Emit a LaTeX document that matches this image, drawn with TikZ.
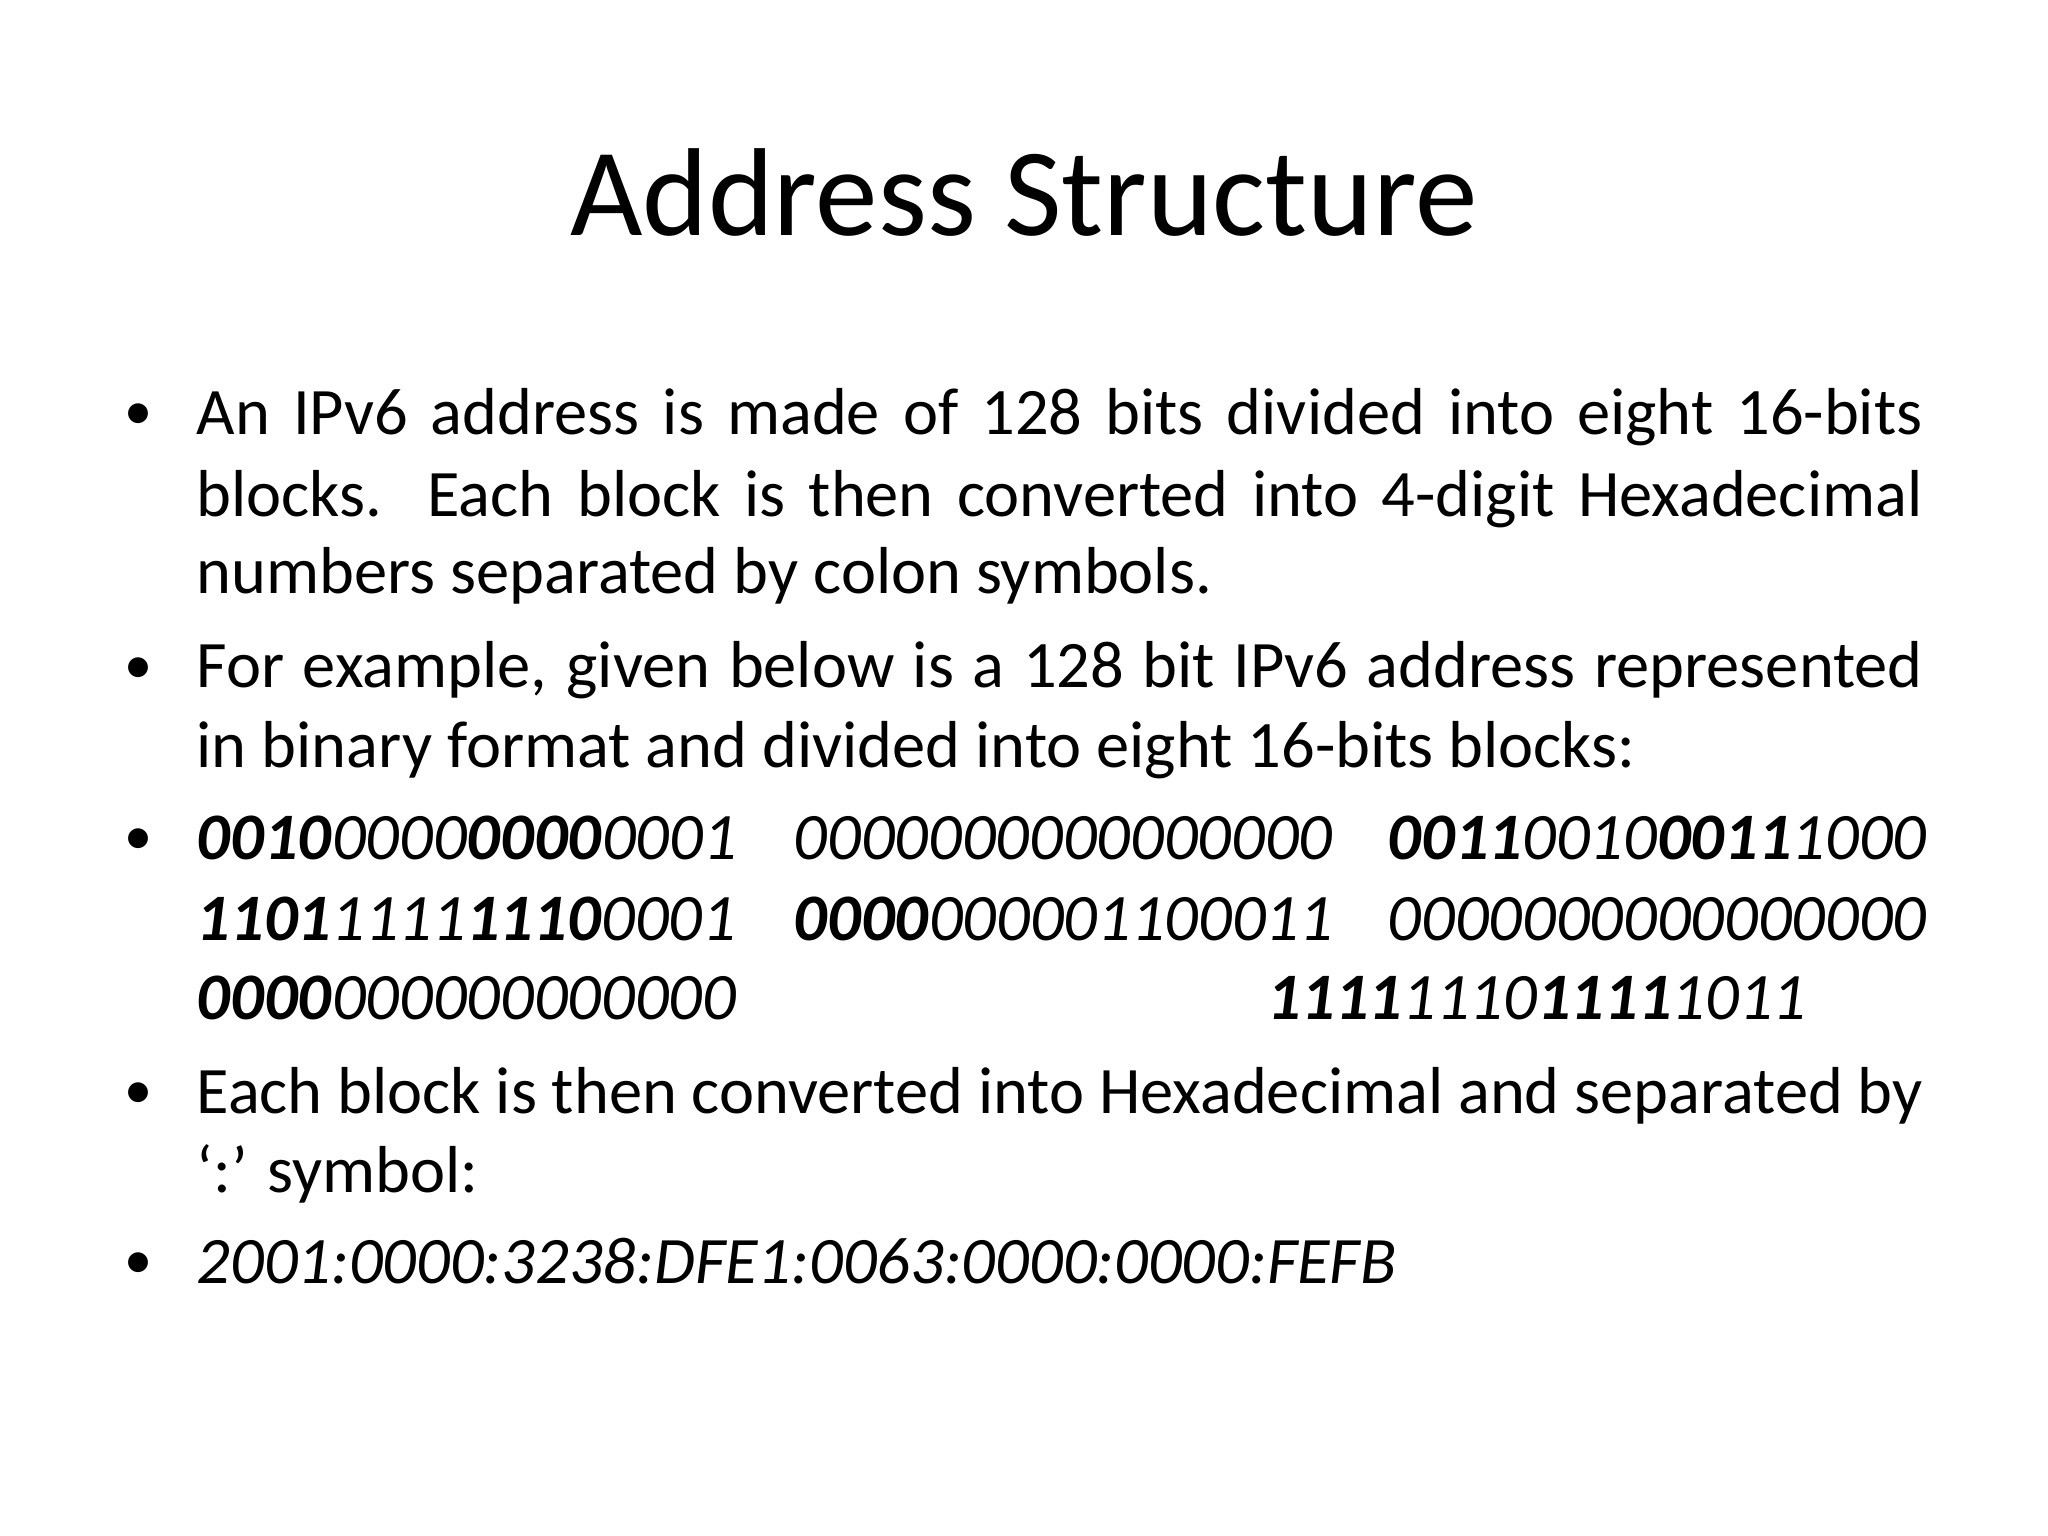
\documentclass[tikz,border=0pt]{standalone}
\usepackage{fontspec}
\setmainfont{Carlito}
\newcommand{\jl}[1]{\makebox[17.26cm][s]{#1}}
\newcommand{\bi}[1]{\textbf{\textit{#1}}}
\begin{document}
\begin{tikzpicture}[x=1cm,y=1cm,
  txt/.style={anchor=base west,inner sep=0pt,font=\fontsize{18.9}{23}\selectfont},
  bul/.style={anchor=base west,inner sep=0pt,font=\fontsize{16}{20}\selectfont}]
\useasboundingbox (0,0) rectangle (20.48,-15.36);
\node[anchor=base,inner sep=0pt,font=\fontsize{35.6}{42}\selectfont] (title) at (10.24,-2.36) {Address Structure};
\foreach \n/\y in {b1/4.30,b2/6.83,b3/8.54,b4/11.08,b5/12.78}
  \node[bul] (\n) at (1.24,-\y) {•};
\node[txt] (l1) at (1.96,-4.35) {\jl{An IPv6 address is made of 128 bits divided into eight 16-bits}};
\node[txt] (l2) at (1.96,-5.16) {\jl{blocks. Each block is then converted into 4-digit Hexadecimal}};
\node[txt] (l3) at (1.96,-5.94) {numbers separated by colon symbols.};
\node[txt] (l4) at (1.96,-6.88) {\jl{For example, given below is a 128 bit IPv6 address represented}};
\node[txt] (l5) at (1.96,-7.68) {in binary format and divided into eight 16-bits blocks:};
\node[txt] (r1a) at (1.96,-8.59) {\bi{0010}\textit{0000}\bi{0000}\textit{0001}};
\node[txt] (r1b) at (7.93,-8.59) {\textit{0000000000000000}};
\node[txt] (r1c) at (13.87,-8.59) {\bi{0011}\textit{0010}\bi{0011}\textit{1000}};
\node[txt] (r2a) at (1.96,-9.40) {\bi{1101}\textit{1111}\bi{1110}\textit{0001}};
\node[txt] (r2b) at (7.93,-9.40) {\bi{0000}\textit{000001100011}};
\node[txt] (r2c) at (13.87,-9.40) {\textit{0000000000000000}};
\node[txt] (r3a) at (1.96,-10.19) {\bi{0000}\textit{000000000000}};
\node[txt] (r3b) at (12.67,-10.19) {\bi{1111}\textit{1110}\bi{1111}\textit{1011}};
\node[txt] (l6) at (1.96,-11.13) {\jl{Each block is then converted into Hexadecimal and separated by}};
\node[txt] (l7) at (1.96,-11.92) {‘:’ symbol:};
\node[txt] (l8) at (1.96,-12.83) {\textit{2001:0000:3238:DFE1:0063:0000:0000:FEFB}};
\end{tikzpicture}
\end{document}
